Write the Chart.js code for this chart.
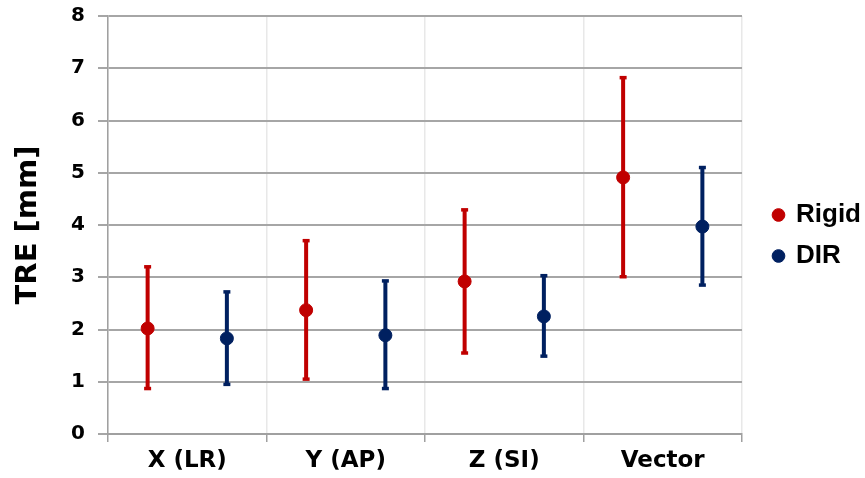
<!DOCTYPE html>
<html>
<head>
<meta charset="utf-8">
<script src="https://cdn.jsdelivr.net/npm/chart.js@4.4.1/dist/chart.umd.min.js"></script>
<style>
  body { margin: 0; background: #fff; }
  #wrap { width: 865px; height: 478px; }
</style>
</head>
<body>
<div id="wrap"><canvas id="myChart"></canvas></div>
<script>
// valores (TRE en mm)
const categorias = ["X (LR)", "Y (AP)", "Z (SI)", "Vector"];
const rigidMedia = [2.02, 2.37, 2.92, 4.91];
const rigidMin   = [0.87, 1.05, 1.55, 3.01];
const rigidMax   = [3.20, 3.70, 4.29, 6.82];
const dirMedia   = [1.83, 1.89, 2.25, 3.97];
const dirMin     = [0.95, 0.87, 1.49, 2.85];
const dirMax     = [2.72, 2.93, 3.03, 5.10];
const yMin = 0, yMax = 8, yPaso = 1;

const rojo = "#c00000";
const azul = "#002060";

// puntos de la media, desplazados dentro de cada categoria
function Puntos(medias, desplazamiento){
    return medias.map((m, i) => ({ x: i + desplazamiento, y: m }));
}

// barras de error: min, max y un hueco para cortar la linea
function Bigotes(minimos, maximos, desplazamiento){
    const pts = [];
    minimos.forEach((lo, i) => {
        pts.push({ x: i + desplazamiento, y: lo });
        pts.push({ x: i + desplazamiento, y: maximos[i] });
        pts.push({ x: i + desplazamiento, y: null });
    });
    return pts;
}

// eje invisible que solo ocupa espacio
function EjeVacio(posicion, tam){
    return {
        type: "linear",
        position: posicion,
        grid: { display: false },
        border: { display: false },
        ticks: { display: false },
        afterFit: (eje) => {
            if (eje.isHorizontal()) eje.height = tam; else eje.width = tam;
        }
    };
}

const data = {
    labels: categorias,
    datasets: [
        {
            label: "Rigid",
            xAxisID: "x2",
            data: Puntos(rigidMedia, -0.25),
            showLine: false,
            backgroundColor: rojo,
            borderColor: rojo,
            pointRadius: 6.5,
            pointBorderWidth: 1
        },
        {
            label: "DIR",
            xAxisID: "x2",
            data: Puntos(dirMedia, 0.25),
            showLine: false,
            backgroundColor: azul,
            borderColor: azul,
            pointRadius: 6.5,
            pointBorderWidth: 1
        },
        {
            label: "rigid-err",
            xAxisID: "x2",
            data: Bigotes(rigidMin, rigidMax, -0.25),
            borderColor: rojo,
            backgroundColor: rojo,
            borderWidth: 4,
            spanGaps: false,
            pointStyle: "line",
            pointRadius: 3.5,
            pointBorderWidth: 3.5
        },
        {
            label: "dir-err",
            xAxisID: "x2",
            data: Bigotes(dirMin, dirMax, 0.25),
            borderColor: azul,
            backgroundColor: azul,
            borderWidth: 4,
            spanGaps: false,
            pointStyle: "line",
            pointRadius: 3.5,
            pointBorderWidth: 3.5
        }
    ]
};

const config = {
    type: "line",
    data: data,
    options: {
        responsive: true,
        maintainAspectRatio: false,
        animation: false,
        layout: { padding: { top: 0, left: 0, right: 0, bottom: 7 } },
        plugins: {
            tooltip: { enabled: false },
            legend: {
                position: "right",
                maxWidth: 106,
                labels: {
                    filter: (item) => item.datasetIndex < 2,
                    usePointStyle: true,
                    pointStyle: "circle",
                    boxWidth: 9,
                    boxHeight: 9,
                    padding: 15,
                    color: "#000",
                    font: { family: "Liberation Sans", weight: "bold", size: 26 }
                }
            }
        },
        scales: {
            x: {
                type: "category",
                offset: true,
                grid: { offset: true, color: "#e8e8e8", lineWidth: 1.5, tickColor: "#a0a0a0", tickLength: 8 },
                border: { color: "#a0a0a0", width: 2 },
                ticks: { color: "#000", font: { family: "DejaVu Sans", weight: "bold", size: 23 }, padding: 5, maxRotation: 0 },
                afterFit: (eje) => { eje.height = 37; }
            },
            x2: {
                type: "linear",
                display: false,
                min: -0.5,
                max: categorias.length - 0.5
            },
            y: {
                min: yMin,
                max: yMax,
                ticks: { stepSize: yPaso, color: "#000", font: { family: "DejaVu Sans", weight: "bold", size: 20 }, padding: 13 },
                grid: { color: "#a6a6a6", lineWidth: 2, tickLength: 10 },
                border: { color: "#a0a0a0", width: 1.5 },
                title: {
                    display: true,
                    text: "TRE [mm]",
                    color: "#000",
                    font: { family: "DejaVu Sans", weight: "bold", size: 29 },
                    padding: { top: 11, bottom: 10 }
                },
                afterFit: (eje) => {
                    eje.width = 108;
                    eje.paddingTop = 16;
                    eje.paddingBottom = 0;
                }
            },
            arriba: EjeVacio("top", 8),
            derecha: EjeVacio("right", 17)
        }
    }
};

const myChart = new Chart(document.getElementById("myChart"), config);
</script>
</body>
</html>
